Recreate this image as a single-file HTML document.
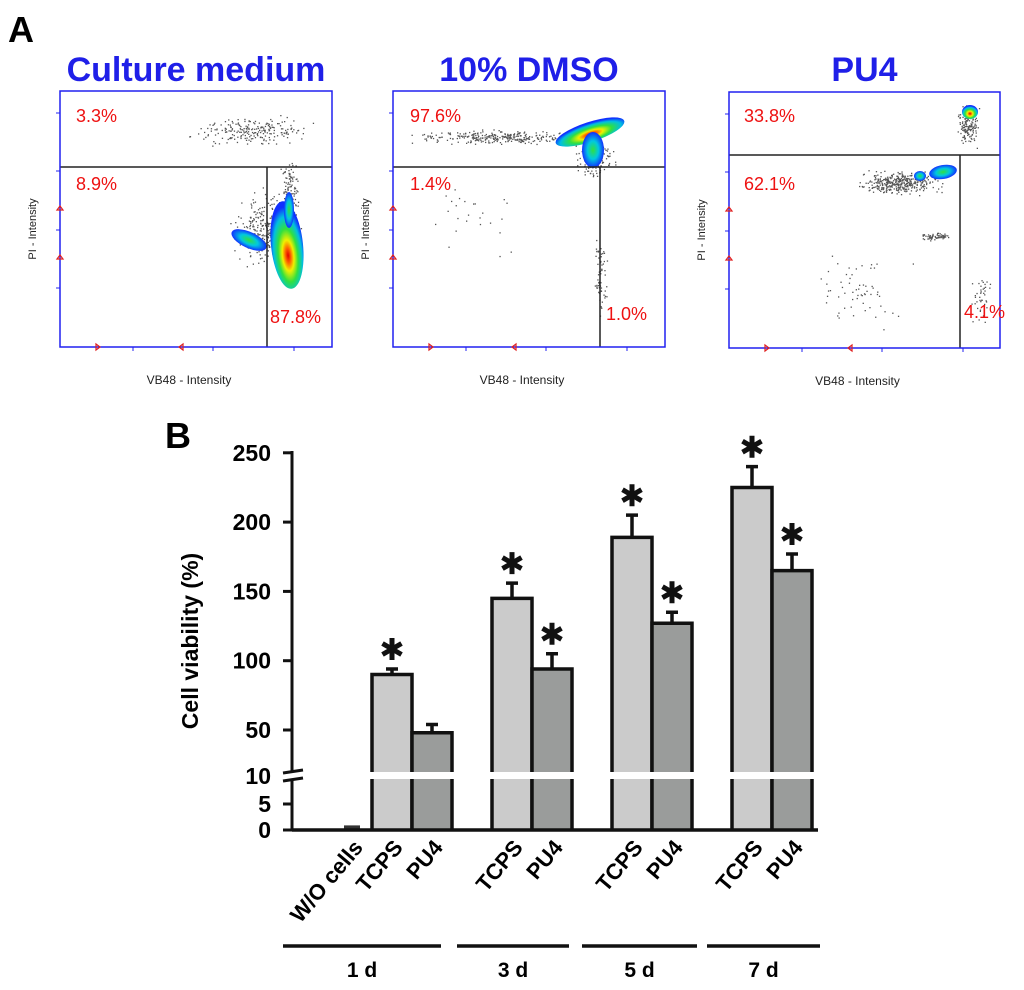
<!DOCTYPE html>
<html><head><meta charset="utf-8"><style>
body{margin:0;background:#fff;}
svg{display:block;font-family:"Liberation Sans",Arial,sans-serif;}
</style></head><body>
<svg id="fig" width="1024" height="990" viewBox="0 0 1024 990" xmlns="http://www.w3.org/2000/svg">
<defs>
<radialGradient id="heat" cx="50%" cy="62%" r="55%">
<stop offset="0" stop-color="#e00000"/><stop offset="0.15" stop-color="#ff6000"/><stop offset="0.32" stop-color="#f0f000"/><stop offset="0.55" stop-color="#30e040"/><stop offset="0.8" stop-color="#00c0e0"/><stop offset="1" stop-color="#1030ff"/>
</radialGradient>
<radialGradient id="cool" cx="50%" cy="50%" r="50%">
<stop offset="0" stop-color="#30e040"/><stop offset="0.5" stop-color="#00c8e0"/><stop offset="1" stop-color="#1030ff"/>
</radialGradient>
</defs>
<text x="8" y="42" font-size="36" font-weight="bold">A</text>
<text x="165" y="448" font-size="36" font-weight="bold">B</text>
<g id="panelA"></g>
<g id="panelB"></g>
</svg>
<script>
const NS="http://www.w3.org/2000/svg";
function mk(p,tag,at,txt){const e=document.createElementNS(NS,tag);for(const k in at)e.setAttribute(k,at[k]);if(txt!==undefined)e.textContent=txt;p.appendChild(e);return e;}
// ---------- Panel A ----------
const A=document.getElementById('panelA');
const plots=[
 {title:"Culture medium",x0:60,x1:332,y0:91,y1:347,hy:167,vx:267,hx0:60,
  pct:[["3.3%",76,122],["8.9%",76,190],["87.8%",270,323]],
  blobs:[[287,245,16,44,-6,'heat'],[249,240,19,8,25,'cool'],[289,210,5,18,0,'cool']],
  clouds:[[265,230,40,45,300],[250,130,75,18,220],[290,185,12,40,90]]},
 {title:"10% DMSO",x0:393,x1:665,y0:91,y1:347,hy:167,vx:600,hx0:393,
  pct:[["97.6%",410,122],["1.4%",410,190],["1.0%",606,320]],
  blobs:[[590,132,36,10,-18,'heat'],[593,150,11,18,0,'cool']],
  clouds:[[500,137,105,9,300],[595,160,25,20,150],[600,280,8,50,60],[470,230,70,60,25]]},
 {title:"PU4",x0:729,x1:1000,y0:92,y1:348,hy:155,vx:960,hx0:729,
  pct:[["33.8%",744,122],["62.1%",744,190],["4.1%",964,318]],
  blobs:[[943,172,14,7,-10,'cool'],[970,112,8,7,0,'heat'],[920,176,6,5,0,'cool']],
  clouds:[[900,182,50,15,380],[968,125,14,28,160],[935,236,20,5,70],[860,290,60,45,60],[980,300,14,40,40]]}
];
let seed=12345;function rnd(){seed=(seed*1103515245+12345)%2147483648;return seed/2147483648;}
function gauss(){return (rnd()+rnd()+rnd()-1.5)/1.5;}
plots.forEach((p,i)=>{
 const g=mk(A,'g',{});
 
 
 const t=mk(g,'text',{x:(p.x0+p.x1)/2,y:81,'text-anchor':'middle','font-size':34,'font-weight':'bold',fill:'#1f1fe8'},p.title);
 
 
 p.clouds.forEach(c=>{for(let k=0;k<c[4];k++){const x=c[0]+gauss()*c[2],y=c[1]+gauss()*c[3];if(x>p.x0+2&&x<p.x1-2&&y>p.y0+2&&y<p.y1-2)mk(g,'rect',{x:x.toFixed(1),y:y.toFixed(1),width:1.3,height:1.3,fill:'#555'});}});
 p.blobs.forEach(b=>{mk(g,'ellipse',{cx:b[0],cy:b[1],rx:b[2],ry:b[3],fill:'url(#'+b[5]+')',transform:`rotate(${b[4]} ${b[0]} ${b[1]})`});});
 mk(g,'line',{x1:p.hx0,y1:p.hy,x2:p.x1,y2:p.hy,stroke:'#222','stroke-width':1.5});
 mk(g,'line',{x1:p.vx,y1:p.hy,x2:p.vx,y2:p.y1,stroke:'#222','stroke-width':1.5});
 mk(g,'rect',{x:p.x0,y:p.y0,width:p.x1-p.x0,height:p.y1-p.y0,fill:'none',stroke:'#2020f0','stroke-width':1.5});
 [22,80,139,197].forEach(d=>{const yy=p.y0+d;mk(g,'line',{x1:p.x0-4,y1:yy,x2:p.x0,y2:yy,stroke:'#2020f0'});});
 [73,153,234].forEach(d=>{const xx=p.x0+d;mk(g,'line',{x1:xx,y1:p.y1,x2:xx,y2:p.y1+4,stroke:'#2020f0'});});
 mk(g,'path',{d:`M${p.x0-3},${p.y0+119} l3,-4 l3,4 z M${p.x0-3},${p.y0+168} l3,-4 l3,4 z M${p.x0+36},${p.y1-3} l4,3 l-4,3 z M${p.x0+123},${p.y1-3} l-4,3 l4,3 z`,fill:'none',stroke:'#e02020','stroke-width':1.2});
 p.pct.forEach(q=>{const e=mk(g,'text',{x:q[1],y:q[2],'font-size':18,fill:'#ee1111'},q[0]);
  
  });
 const yl=mk(g,'text',{x:0,y:0,'font-size':11,fill:'#222','text-anchor':'middle',transform:`translate(${p.x0-24},${(p.y0+p.y1)/2+10}) rotate(-90)`},'PI - Intensity');
 
 
 const xl=mk(g,'text',{x:(p.x0+p.x1)/2-7,y:p.y1+37,'font-size':12,fill:'#222','text-anchor':'middle'},'VB48 - Intensity');
 
 
});
// ---------- Panel B ----------
const categories=["W/O cells","TCPS","PU4","TCPS","PU4","TCPS","PU4","TCPS","PU4"];
const values=[0.5,90,48,145,94,189,127,225,165];
const errors=[0,4,6,11,11,16,8,15,12];
const significant=[0,1,0,1,1,1,1,1,1];
const seriesType=[0,1,2,1,2,1,2,1,2];
const groupLabels=["1 d","3 d","5 d","7 d"];
const upperTicks=[250,200,150,100,50];
const lowerTicks=[10,5,0];
const slots=[0,1,2,4,5,7,8,10,11];
const B=document.getElementById('panelB');
const AX=292, Y0=830, BW=40;
function yScale(v){return v<=10? Y0-v*5.2 : 730-(v-50)*1.386;}
function xScale(i){return 352+slots[i]*40;}
const fills=['#ffffff','#cbcbcb','#9a9c9b'];
mk(B,'line',{x1:AX,y1:451,x2:AX,y2:771,stroke:'#111','stroke-width':3});
mk(B,'line',{x1:AX,y1:780,x2:AX,y2:Y0,stroke:'#111','stroke-width':3});
mk(B,'line',{x1:283,y1:773,x2:303,y2:770,stroke:'#111','stroke-width':3});
mk(B,'line',{x1:283,y1:781,x2:303,y2:778,stroke:'#111','stroke-width':3});
upperTicks.forEach(v=>{const y=yScale(v);mk(B,'line',{x1:283,y1:y,x2:AX,y2:y,stroke:'#111','stroke-width':3});
 const t=mk(B,'text',{x:271,y:y+8,'text-anchor':'end','font-size':23,'font-weight':'bold'},v);
 
 });
lowerTicks.forEach(v=>{const y=yScale(v);if(v!==10)mk(B,'line',{x1:283,y1:y,x2:AX,y2:y,stroke:'#111','stroke-width':3});
 const t=mk(B,'text',{x:271,y:y+8+(v===10?-2:0),'text-anchor':'end','font-size':23,'font-weight':'bold'},v);
 
 });
const yt=mk(B,'text',{x:0,y:0,'font-size':23,'font-weight':'bold','text-anchor':'middle',transform:'translate(198,641) rotate(-90)'},'Cell viability (%)');


function star(g,cx,cy,r){let d='';for(let k=0;k<3;k++){const a=Math.PI/2+k*Math.PI/3;const dx=Math.cos(a)*r,dy=Math.sin(a)*r;d+=`M${(cx-dx).toFixed(1)},${(cy-dy).toFixed(1)} L${(cx+dx).toFixed(1)},${(cy+dy).toFixed(1)} `;}
 const s=mk(g,'path',{d:d,stroke:'#111','stroke-width':5,fill:'none'});
 
 }
values.forEach((v,i)=>{
 const cx=xScale(i),x=cx-BW/2,f=fills[seriesType[i]];
 const g=mk(B,'g',{});
 
 
 if(v<=10){const yt2=yScale(v);mk(g,'rect',{x:cx-8,y:yt2-2,width:16,height:Y0-yt2+2,fill:'#333'});return;}
 mk(g,'rect',{x:x,y:779,width:BW,height:Y0-779,fill:f});
 mk(g,'rect',{x:x,y:yScale(v),width:BW,height:772-yScale(v),fill:f});
 const yt2=yScale(v);
 mk(g,'path',{d:`M${x},772 V${yt2} H${x+BW} V772 M${x},779 V${Y0} M${x+BW},779 V${Y0}`,fill:'none',stroke:'#111','stroke-width':3.5});
 const ye=yScale(v+errors[i]);
 mk(g,'path',{d:`M${cx},${yt2} V${ye} M${cx-6},${ye} H${cx+6}`,stroke:'#111','stroke-width':3.5,fill:'none'});
 if(significant[i])star(g,cx,ye-20,11);
});
mk(B,'line',{x1:AX,y1:Y0,x2:818,y2:Y0,stroke:'#111','stroke-width':3.5});
categories.forEach((c,i)=>{const cx=xScale(i)+12;
 const t=mk(B,'text',{x:0,y:0,'font-size':22,'font-weight':'bold','text-anchor':'end',transform:`translate(${cx},${848}) rotate(-50)`},c);
 
 });
const gl=[[283,441],[457,569],[582,697],[707,820]];
groupLabels.forEach((l,i)=>{mk(B,'line',{x1:gl[i][0],y1:946,x2:gl[i][1],y2:946,stroke:'#111','stroke-width':3.5});
 const t=mk(B,'text',{x:(gl[i][0]+gl[i][1])/2,y:977,'text-anchor':'middle','font-size':21,'font-weight':'bold'},l);
 
 });
</script>
</body></html>
